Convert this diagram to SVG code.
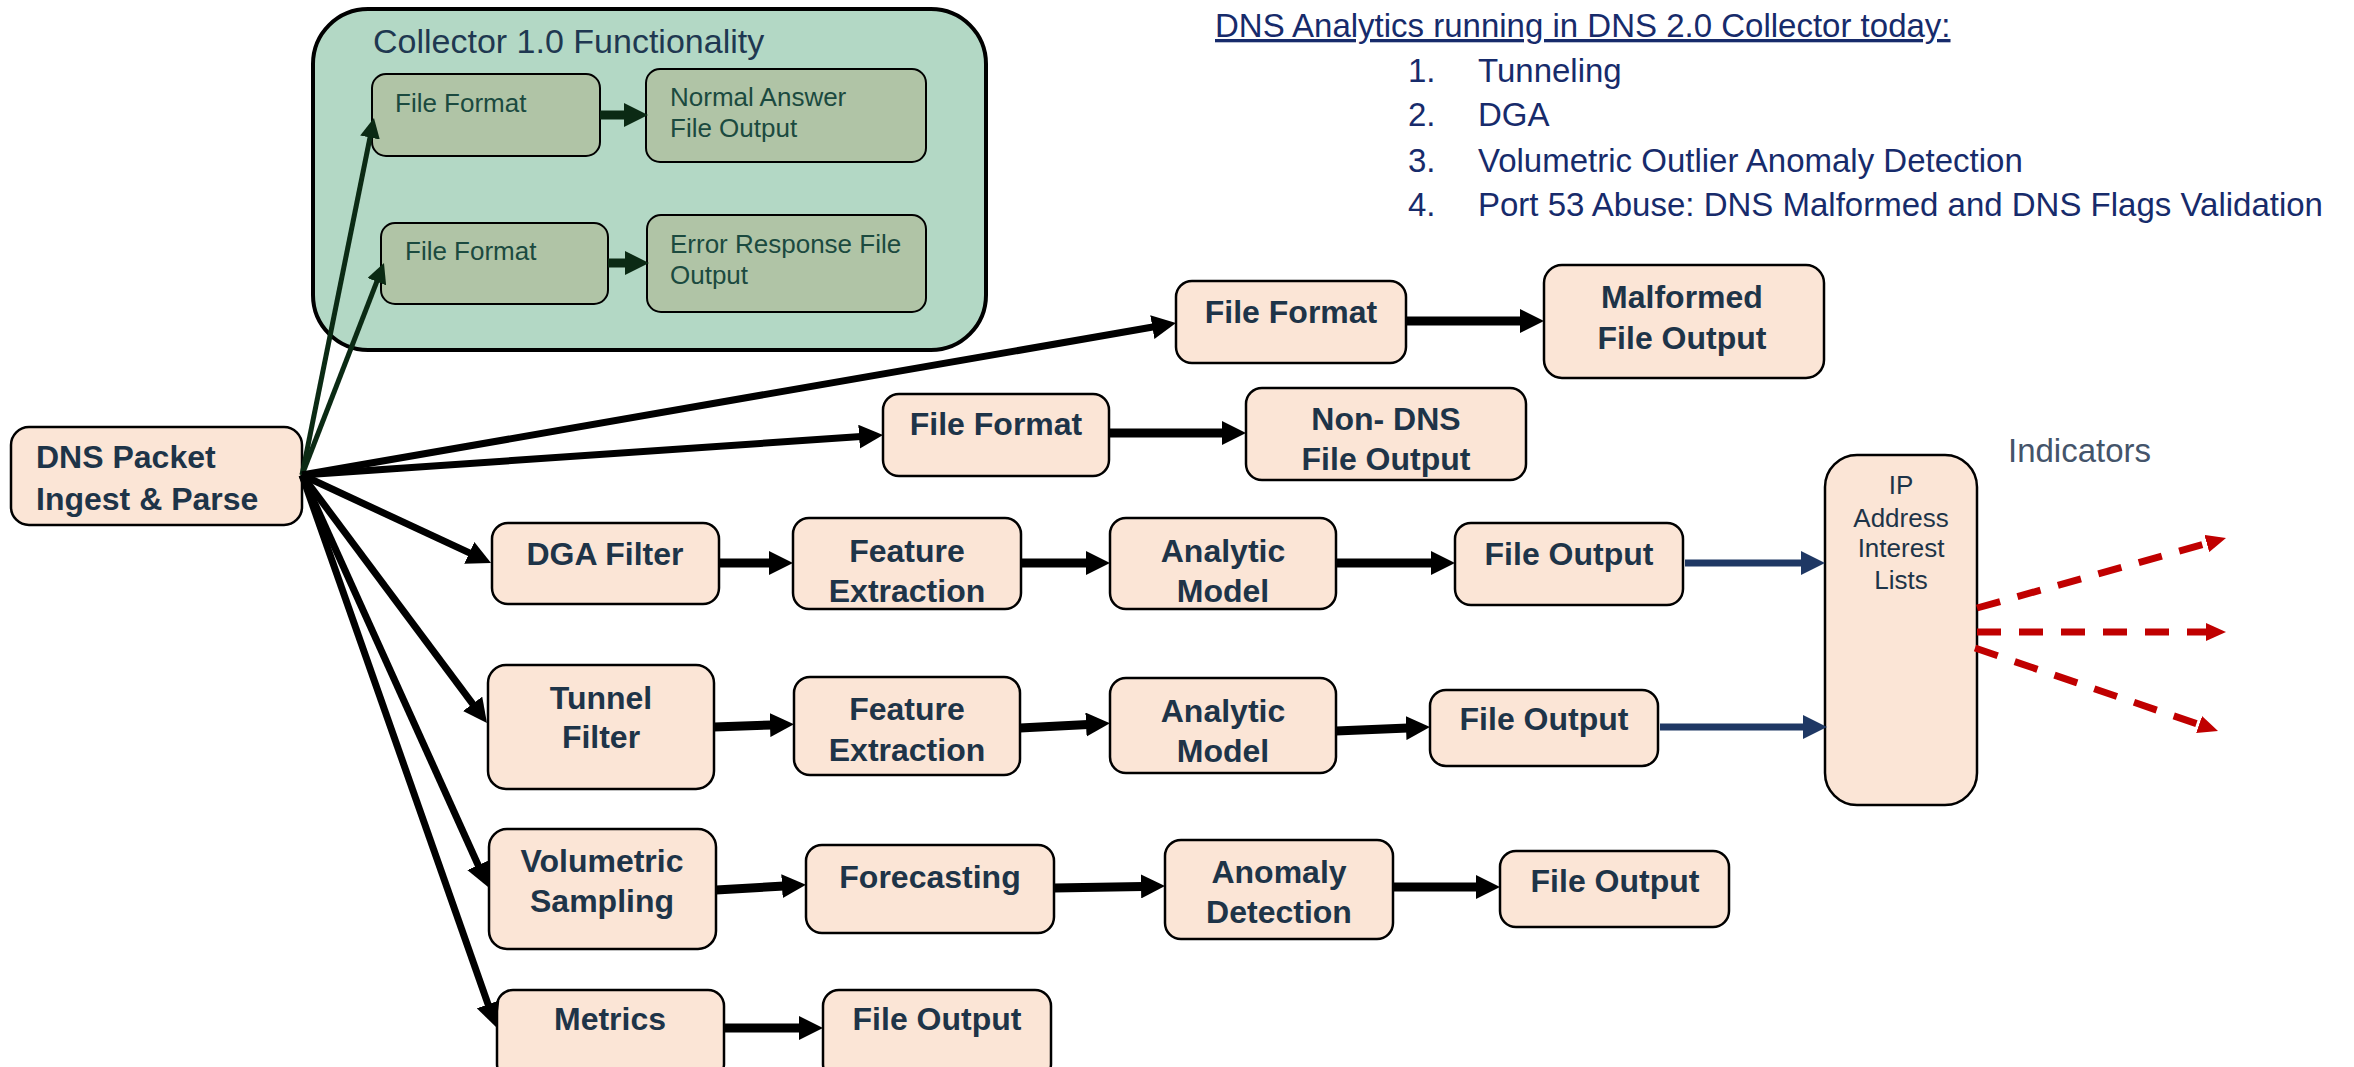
<svg xmlns="http://www.w3.org/2000/svg" width="2354" height="1067" viewBox="0 0 2354 1067">
<style>
.box{fill:#fbe5d6;stroke:#000;stroke-width:2.5}
.ibox{fill:#b0c4a6;stroke:#000;stroke-width:2}
.lb{font-family:"Liberation Sans",Arial,sans-serif;font-weight:bold;font-size:32px;fill:#1e3448;text-anchor:middle}
.li{font-family:"Liberation Sans",Arial,sans-serif;font-size:26px;fill:#1b4a3f}
.ip{font-family:"Liberation Sans",Arial,sans-serif;font-size:26px;fill:#1e3448;text-anchor:middle}
.tr{font-family:"Liberation Sans",Arial,sans-serif;font-size:33px;fill:#172b6b}
.fan{stroke:#000;stroke-width:7;fill:none;marker-end:url(#ak)}
.con{stroke:#000;stroke-width:9;fill:none;marker-end:url(#ak)}
.gfan{stroke:#0b2a14;stroke-width:5;fill:none;marker-end:url(#ags)}
.gcon{stroke:#0b2a14;stroke-width:9;fill:none;marker-end:url(#ag)}
.blue{stroke:#1f3864;stroke-width:7;fill:none;marker-end:url(#ab)}
.red{stroke:#c00000;stroke-width:7;fill:none;stroke-dasharray:24 18;marker-end:url(#ar)}
</style>
<defs>
<marker id="ak" markerUnits="userSpaceOnUse" markerWidth="24" markerHeight="24" refX="2" refY="12" orient="auto"><path d="M0,0 L24,12 L0,24 z" fill="#000"/></marker>
<marker id="ag" markerUnits="userSpaceOnUse" markerWidth="24" markerHeight="24" refX="2" refY="12" orient="auto"><path d="M0,0 L24,12 L0,24 z" fill="#0b2a14"/></marker>
<marker id="ags" markerUnits="userSpaceOnUse" markerWidth="20" markerHeight="20" refX="2" refY="10" orient="auto"><path d="M0,0 L20,10 L0,20 z" fill="#0b2a14"/></marker>
<marker id="ab" markerUnits="userSpaceOnUse" markerWidth="24" markerHeight="24" refX="2" refY="12" orient="auto"><path d="M0,0 L24,12 L0,24 z" fill="#1f3864"/></marker>
<marker id="ar" markerUnits="userSpaceOnUse" markerWidth="20" markerHeight="18" refX="2" refY="9" orient="auto"><path d="M0,0 L20,9 L0,18 z" fill="#c00000"/></marker>
</defs>

<g id="collector">
<rect x="313" y="9" width="673" height="341" rx="55" fill="#b3d8c5" stroke="#000" stroke-width="4"/>
<text x="373" y="53" font-family="Liberation Sans,Arial,sans-serif" font-size="34" fill="#1f3851">Collector 1.0 Functionality</text>
</g>
<g id="c-fileformat1"><rect class="ibox" x="372" y="74" width="228" height="82" rx="14"/><text class="li" x="395" y="112">File Format</text></g>
<g id="c-normal"><rect class="ibox" x="646" y="69" width="280" height="93" rx="14"/><text class="li" x="670" y="106">Normal Answer</text><text class="li" x="670" y="137">File Output</text></g>
<g id="c-fileformat2"><rect class="ibox" x="381" y="223" width="227" height="81" rx="14"/><text class="li" x="405" y="260">File Format</text></g>
<g id="c-error"><rect class="ibox" x="647" y="215" width="279" height="97" rx="14"/><text class="li" x="670" y="253">Error Response File</text><text class="li" x="670" y="284">Output</text></g>

<g id="heading">
<text class="tr" x="1215" y="37" text-decoration="underline">DNS Analytics running in DNS 2.0 Collector today:</text>
<text class="tr" x="1408" y="82">1.</text><text class="tr" x="1478" y="82">Tunneling</text>
<text class="tr" x="1408" y="126">2.</text><text class="tr" x="1478" y="126">DGA</text>
<text class="tr" x="1408" y="172">3.</text><text class="tr" x="1478" y="172">Volumetric Outlier Anomaly Detection</text>
<text class="tr" x="1408" y="216">4.</text><text class="tr" x="1478" y="216">Port 53 Abuse: DNS Malformed and DNS Flags Validation</text>
</g>

<g id="dns-packet"><rect class="box" x="11" y="427" width="291" height="98" rx="18"/><text class="lb" x="36" y="468" style="text-anchor:start">DNS Packet</text><text class="lb" x="36" y="510" style="text-anchor:start">Ingest &amp; Parse</text></g>

<g id="ff-malformed"><rect class="box" x="1176" y="281" width="230" height="82" rx="16"/><text class="lb" x="1291" y="323">File Format</text></g>
<g id="malformed-out"><rect class="box" x="1544" y="265" width="280" height="113" rx="18"/><text class="lb" x="1682" y="308">Malformed</text><text class="lb" x="1682" y="349">File Output</text></g>
<g id="ff-nondns"><rect class="box" x="883" y="394" width="226" height="82" rx="16"/><text class="lb" x="996" y="435">File Format</text></g>
<g id="nondns-out"><rect class="box" x="1246" y="388" width="280" height="92" rx="16"/><text class="lb" x="1386" y="430">Non- DNS</text><text class="lb" x="1386" y="470">File Output</text></g>

<g id="dga-filter"><rect class="box" x="492" y="523" width="227" height="81" rx="16"/><text class="lb" x="605" y="565">DGA Filter</text></g>
<g id="dga-feature"><rect class="box" x="793" y="518" width="228" height="91" rx="16"/><text class="lb" x="907" y="562">Feature</text><text class="lb" x="907" y="602">Extraction</text></g>
<g id="dga-model"><rect class="box" x="1110" y="518" width="226" height="91" rx="16"/><text class="lb" x="1223" y="562">Analytic</text><text class="lb" x="1223" y="602">Model</text></g>
<g id="dga-out"><rect class="box" x="1455" y="523" width="228" height="82" rx="16"/><text class="lb" x="1569" y="565">File Output</text></g>

<g id="tunnel-filter"><rect class="box" x="488" y="665" width="226" height="124" rx="18"/><text class="lb" x="601" y="709">Tunnel</text><text class="lb" x="601" y="748">Filter</text></g>
<g id="tunnel-feature"><rect class="box" x="794" y="677" width="226" height="98" rx="16"/><text class="lb" x="907" y="720">Feature</text><text class="lb" x="907" y="761">Extraction</text></g>
<g id="tunnel-model"><rect class="box" x="1110" y="678" width="226" height="95" rx="16"/><text class="lb" x="1223" y="722">Analytic</text><text class="lb" x="1223" y="762">Model</text></g>
<g id="tunnel-out"><rect class="box" x="1430" y="690" width="228" height="76" rx="16"/><text class="lb" x="1544" y="730">File Output</text></g>

<g id="vol-sampling"><rect class="box" x="489" y="829" width="227" height="120" rx="18"/><text class="lb" x="602" y="872">Volumetric</text><text class="lb" x="602" y="912">Sampling</text></g>
<g id="forecasting"><rect class="box" x="806" y="845" width="248" height="88" rx="16"/><text class="lb" x="930" y="888">Forecasting</text></g>
<g id="anomaly"><rect class="box" x="1165" y="840" width="228" height="99" rx="16"/><text class="lb" x="1279" y="883">Anomaly</text><text class="lb" x="1279" y="923">Detection</text></g>
<g id="vol-out"><rect class="box" x="1500" y="851" width="229" height="76" rx="16"/><text class="lb" x="1615" y="892">File Output</text></g>

<g id="metrics"><rect class="box" x="497" y="990" width="227" height="90" rx="16"/><text class="lb" x="610" y="1030">Metrics</text></g>
<g id="metrics-out"><rect class="box" x="823" y="990" width="228" height="90" rx="16"/><text class="lb" x="937" y="1030">File Output</text></g>

<g id="ip-lists"><rect class="box" x="1825" y="455" width="152" height="350" rx="32"/><text class="ip" x="1901" y="494">IP</text><text class="ip" x="1901" y="527">Address</text><text class="ip" x="1901" y="557">Interest</text><text class="ip" x="1901" y="589">Lists</text></g>
<g id="indicators"><text x="2008" y="462" font-family="Liberation Sans,Arial,sans-serif" font-size="33" fill="#44546a">Indicators</text></g>

<g id="connectors">
<line class="gfan" x1="302" y1="475" x2="370.4" y2="135.6"/>
<line class="gfan" x1="302" y1="475" x2="377.5" y2="279.8"/>
<line class="gcon" x1="600" y1="115" x2="626" y2="115"/>
<line class="gcon" x1="608" y1="263" x2="627" y2="263"/>
<line class="fan" x1="302" y1="475" x2="1154.3" y2="326.8"/>
<line class="fan" x1="302" y1="475" x2="861.1" y2="436.5"/>
<line class="fan" x1="302" y1="475" x2="471.1" y2="553.7"/>
<line class="fan" x1="302" y1="475" x2="473.8" y2="705.4"/>
<line class="fan" x1="302" y1="475" x2="479" y2="867"/>
<line class="fan" x1="302" y1="475" x2="488.7" y2="1006.2"/>
<line class="con" x1="1406" y1="321" x2="1522" y2="321"/>
<line class="con" x1="1109" y1="433" x2="1224" y2="433"/>
<line class="con" x1="719" y1="563" x2="771" y2="563"/>
<line class="con" x1="1021" y1="563" x2="1088" y2="563"/>
<line class="con" x1="1336" y1="563" x2="1433" y2="563"/>
<line class="con" x1="714" y1="727" x2="772" y2="725"/>
<line class="con" x1="1020" y1="728" x2="1088" y2="724.5"/>
<line class="con" x1="1336" y1="731" x2="1408" y2="728"/>
<line class="con" x1="716" y1="890" x2="784" y2="886"/>
<line class="con" x1="1054" y1="888" x2="1143" y2="886.4"/>
<line class="con" x1="1393" y1="887" x2="1478" y2="887"/>
<line class="con" x1="724" y1="1028" x2="801" y2="1028"/>
<line class="blue" x1="1685" y1="563" x2="1803" y2="563"/>
<line class="blue" x1="1660" y1="727" x2="1805" y2="727"/>
<line class="red" x1="1977" y1="608" x2="2208.7" y2="542.9"/>
<line class="red" x1="1977" y1="632" x2="2208" y2="632"/>
<line class="red" x1="1975" y1="648" x2="2201" y2="725.2"/>
</g>
</svg>
